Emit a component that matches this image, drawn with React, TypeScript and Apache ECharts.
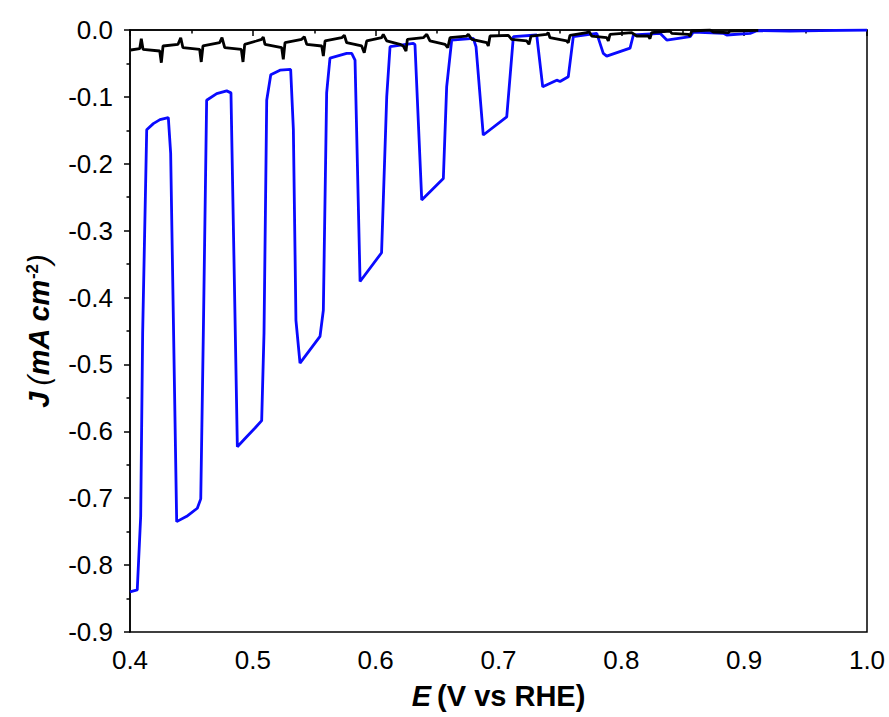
import React, { useEffect, useRef } from "react";
import * as echarts from "echarts";

const blueE = [0.4, 0.4059, 0.4087, 0.4103, 0.4136, 0.419, 0.4244, 0.4312, 0.4331, 0.438, 0.4462, 0.4548, 0.4576, 0.4597, 0.4624, 0.4706, 0.4787, 0.4822, 0.4874, 0.495, 0.5018, 0.5072, 0.5091, 0.5113, 0.5146, 0.5221, 0.5308, 0.533, 0.5351, 0.5384, 0.5547, 0.5574, 0.5601, 0.5628, 0.5764, 0.5805, 0.5832, 0.5873, 0.6048, 0.609, 0.6117, 0.6306, 0.632, 0.6375, 0.6551, 0.6578, 0.6619, 0.6795, 0.6817, 0.6876, 0.7067, 0.7121, 0.7311, 0.736, 0.7474, 0.7501, 0.7568, 0.7609, 0.78, 0.7853, 0.7881, 0.8071, 0.8098, 0.8315, 0.837, 0.856, 0.8587, 0.883, 0.8858, 0.9048, 0.9103, 0.9373, 0.9617, 1.0];
const blueJ = [-0.84, -0.837, -0.727, -0.453, -0.149, -0.14, -0.134, -0.131, -0.184, -0.735, -0.727, -0.715, -0.701, -0.453, -0.105, -0.095, -0.091, -0.094, -0.623, -0.608, -0.595, -0.584, -0.453, -0.105, -0.067, -0.06, -0.059, -0.149, -0.434, -0.498, -0.458, -0.419, -0.094, -0.042, -0.035, -0.035, -0.045, -0.376, -0.333, -0.1, -0.025, -0.02, -0.022, -0.254, -0.222, -0.085, -0.015, -0.0125, -0.025, -0.157, -0.13, -0.01, -0.0075, -0.085, -0.075, -0.077, -0.07, -0.01, -0.005, -0.035, -0.039, -0.027, -0.0075, -0.005, -0.015, -0.01, -0.003, -0.005, -0.0075, -0.005, -0.001, -0.0015, -0.001, 0];

const blackE = [0.4006, 0.4079, 0.4092, 0.4106, 0.4242, 0.4255, 0.4269, 0.4391, 0.4413, 0.4431, 0.4567, 0.458, 0.4594, 0.473, 0.4749, 0.4771, 0.4906, 0.492, 0.4934, 0.5028, 0.5072, 0.5085, 0.5099, 0.5235, 0.5248, 0.5262, 0.5398, 0.5419, 0.5439, 0.5561, 0.5574, 0.5588, 0.5724, 0.5745, 0.5764, 0.5886, 0.5907, 0.5927, 0.6049, 0.6062, 0.609, 0.6198, 0.6225, 0.6247, 0.6258, 0.6388, 0.6416, 0.6442, 0.6565, 0.6587, 0.6605, 0.6741, 0.6754, 0.6782, 0.6904, 0.6917, 0.6931, 0.708, 0.7107, 0.723, 0.7248, 0.7265, 0.7392, 0.7405, 0.7419, 0.7555, 0.7568, 0.7582, 0.7718, 0.7737, 0.7759, 0.7881, 0.7894, 0.7908, 0.8084, 0.8125, 0.822, 0.8233, 0.8247, 0.8396, 0.841, 0.8545, 0.8559, 0.8573, 0.8722, 0.8749, 0.8871, 0.8885, 0.9115];
const blackJ = [-0.0299, -0.028, -0.013, -0.0289, -0.0314, -0.0489, -0.0239, -0.0214, -0.0115, -0.0265, -0.0289, -0.0478, -0.0239, -0.019, -0.0115, -0.0265, -0.0289, -0.0478, -0.0214, -0.0164, -0.0139, -0.0105, -0.0214, -0.0265, -0.0438, -0.019, -0.0139, -0.01, -0.0214, -0.0239, -0.0389, -0.0164, -0.0115, -0.0079, -0.019, -0.0239, -0.0339, -0.0164, -0.0115, -0.0064, -0.0164, -0.0214, -0.0239, -0.0314, -0.0139, -0.0115, -0.0064, -0.0164, -0.0214, -0.0265, -0.0115, -0.009, -0.0064, -0.0139, -0.019, -0.0239, -0.009, -0.0079, -0.0139, -0.0164, -0.0214, -0.009, -0.0064, -0.004, -0.0115, -0.0164, -0.019, -0.0079, -0.004, -0.0022, -0.009, -0.0115, -0.0164, -0.0064, -0.004, -0.009, -0.009, -0.013, -0.004, -0.0015, -0.0049, -0.0064, -0.009, -0.0015, 0, -0.003, -0.004, -0.0015, -0.0007];

const FONT = "Liberation Sans, Arial, sans-serif";

export default function App() {
  const ref = useRef<HTMLDivElement>(null);
  useEffect(() => {
    if (!ref.current) return;
    const chart = echarts.init(ref.current, null, { renderer: "svg" });
    const blue = blueE.map((e, i) => [e, blueJ[i]]);
    const black = blackE.map((e, i) => [e, blackJ[i]]);
    const axisCommon = {
      axisLine: { show: true, lineStyle: { color: "#000", width: 1.5 } },
      axisTick: { show: true, inside: false, length: 6, lineStyle: { color: "#000", width: 1.5 } },
      minorTick: { show: true, splitNumber: 2, length: 3.5, lineStyle: { color: "#000", width: 1.5 } },
      splitLine: { show: false },
      axisLabel: { color: "#000", fontSize: 26, fontFamily: FONT },
    };
    chart.setOption({
      animation: false,
      backgroundColor: "#fff",
      grid: {
        left: 130, right: 22, top: 30, bottom: 85,
        show: true, borderColor: "#000", borderWidth: 1.5, backgroundColor: "transparent",
      },
      xAxis: {
        type: "value", min: 0.4, max: 1.0, interval: 0.1,
        ...axisCommon,
        axisLabel: { ...axisCommon.axisLabel, margin: 15, formatter: (v: number) => v.toFixed(1) },
        name: "{i|E} {n|(V vs RHE)}",
        nameLocation: "middle", nameGap: 49,
        nameTextStyle: {
          fontSize: 22, fontFamily: FONT, color: "#000",
          rich: {
            i: { fontSize: 29, fontWeight: "bold", fontStyle: "italic", fontFamily: FONT, color: "#000" },
            n: { fontSize: 29, fontWeight: "bold", fontFamily: FONT, color: "#000" },
          },
        },
      },
      yAxis: {
        type: "value", min: -0.9, max: 0, interval: 0.1,
        ...axisCommon,
        axisLabel: { ...axisCommon.axisLabel, margin: 17, formatter: (v: number) => v.toFixed(1) },
        name: "{i|J} {p|(}{i|mA cm}{s|-2}{p|)}",
        nameLocation: "middle", nameGap: 76, nameRotate: 90,
        nameTextStyle: {
          fontSize: 22, fontFamily: FONT, color: "#000",
          rich: {
            i: { fontSize: 29, fontWeight: "bold", fontStyle: "italic", fontFamily: FONT, color: "#000" },
            p: { fontSize: 29, fontStyle: "italic", fontFamily: FONT, color: "#000" },
            s: { fontSize: 17, fontWeight: "bold", fontFamily: FONT, color: "#000", padding: [0, 0, 13, 0] },
          },
        },
      },
      series: [
        {
          type: "line", data: blue, showSymbol: false, symbol: "none",
          lineStyle: { color: "#0a0aff", width: 2.8 }, z: 2,
        },
        {
          type: "line", data: black, showSymbol: false, symbol: "none",
          lineStyle: { color: "#000", width: 2.8 }, z: 3,
        },
      ],
    });
    return () => chart.dispose();
  }, []);
  return <div ref={ref} style={{ width: 889, height: 717, position: "absolute", left: 0, top: 0 }} />;
}
